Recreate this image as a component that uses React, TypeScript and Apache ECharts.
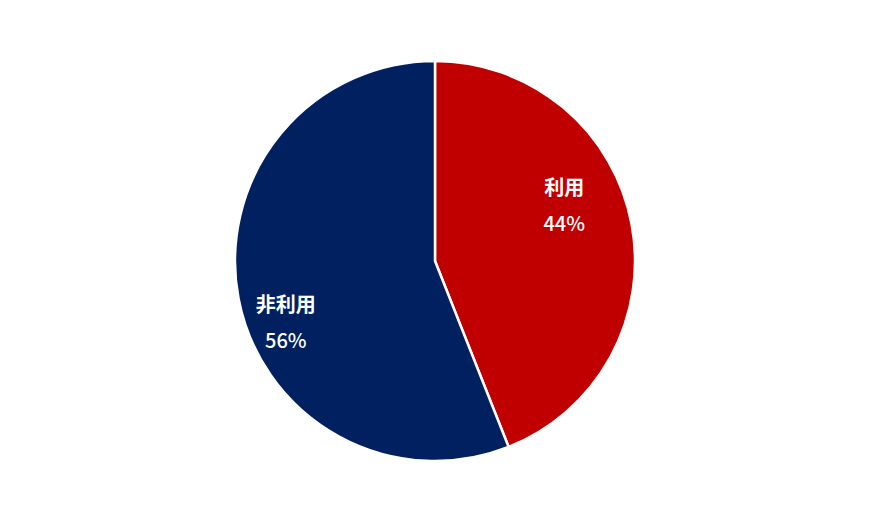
import React, { useEffect, useRef } from 'react'
import * as echarts from 'echarts'

const categories = ['利用', '非利用']
const values = [44, 56]
const colors = ['#C00000', '#002060']
// label shifts from the default inside position (Excel-style manual placement)
const labelShift = [
  { dx: 28, dy: -37 },
  { dx: -48, dy: 41 },
]

const App: React.FC = () => {
  const chartRef = useRef<HTMLDivElement>(null)

  useEffect(() => {
    if (!chartRef.current) return
    document.body.style.margin = '0'
    const chart = echarts.init(chartRef.current, undefined, { renderer: 'svg' })

    const option: echarts.EChartsOption = {
      animation: false,
      backgroundColor: '#ffffff',
      series: [
        {
          type: 'pie',
          center: [435, 261],
          radius: [0, 200],
          startAngle: 90,
          clockwise: true,
          data: categories.map((name, i) => ({
            name,
            value: values[i],
            itemStyle: { color: colors[i] },
          })),
          itemStyle: {
            borderColor: '#ffffff',
            borderWidth: 2.5,
          },
          label: {
            show: true,
            position: 'inside',
            formatter: '{n|{b}}\n{p|{c}%}',
            rich: {
              n: {
                color: '#ffffff',
                fontSize: 20,
                fontWeight: 'bold',
                fontFamily: '"Noto Sans CJK JP", sans-serif',
                lineHeight: 36,
              },
              p: {
                color: '#ffffff',
                fontSize: 20,
                fontWeight: 500,
                fontFamily: '"Noto Sans CJK JP", sans-serif',
                lineHeight: 36,
              },
            },
          },
          labelLayout: (params: any) => labelShift[params.dataIndex],
          labelLine: { show: false },
          emphasis: { disabled: true },
        },
      ],
    }

    chart.setOption(option)
    return () => {
      chart.dispose()
    }
  }, [])

  return <div ref={chartRef} style={{ width: 870, height: 522 }} />
}

export default App
